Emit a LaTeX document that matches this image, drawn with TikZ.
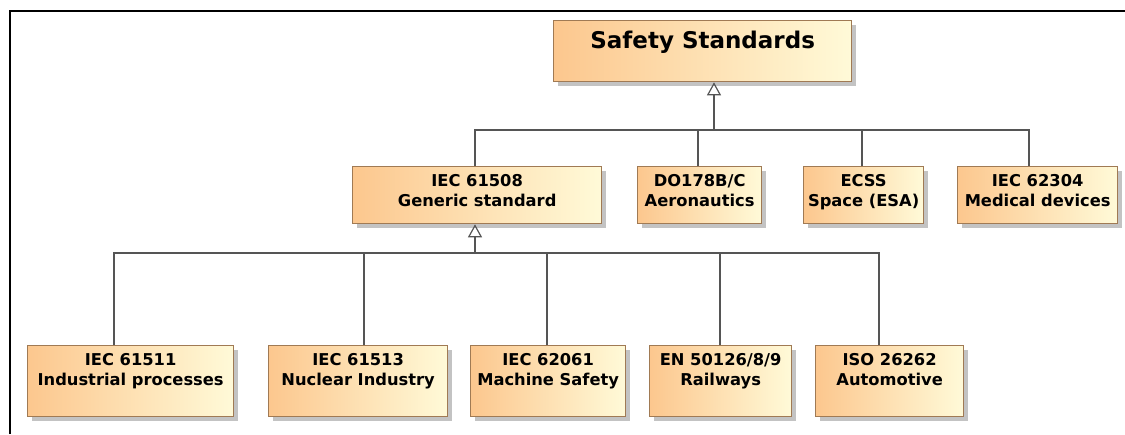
\documentclass[tikz,border=0pt]{standalone}
\usepackage{fontspec}
\setmainfont{DejaVu Sans}
\usetikzlibrary{arrows.meta,shadows}
\definecolor{boxleft}{RGB}{252,199,142}
\definecolor{boxright}{RGB}{255,250,216}
\definecolor{boxborder}{RGB}{160,122,84}
\definecolor{connc}{RGB}{85,85,85}
\definecolor{shadowc}{RGB}{195,195,195}
\begin{document}
\begin{tikzpicture}[x=1pt,y=-1pt,
  sbox/.style={draw=boxborder, line width=1.3pt, left color=boxleft, right color=boxright,
    anchor=north west, inner sep=0pt, minimum height=#1,
    drop shadow={shadow xshift=4pt, shadow yshift=-4pt, fill=shadowc, opacity=1}},
  lbl/.style={anchor=north, yshift=-8pt, align=center, inner sep=0pt,
    font=\bfseries\fontsize{16.3}{20.5}\selectfont},
  conn/.style={draw=connc, line width=1.3pt},
  gen/.style={conn, -{Triangle[open, width=14pt, length=13pt, line width=1.2pt]}}
]
\useasboundingbox (0,0) rectangle (1125,434);
\draw[line width=2.2pt] (10,434) -- (10,11) -- (1125,11);

% top
\node[sbox=61pt, minimum width=298pt, label={[lbl, yshift=-3pt, font=\bfseries\fontsize{23}{27}\selectfont]north:Safety Standards}] (safety) at (553,20) {};

% level 2
\node[sbox=57pt, minimum width=249pt, label={[lbl]north:IEC 61508\\Generic standard}] (i61508) at (352,166) {};
\node[sbox=57pt, minimum width=124pt, label={[lbl]north:DO178B/C\\Aeronautics}] (do178) at (637,166) {};
\node[sbox=57pt, minimum width=120pt, label={[lbl]north:ECSS\\Space (ESA)}] (ecss) at (803,166) {};
\node[sbox=57pt, minimum width=160pt, label={[lbl]north:IEC 62304\\Medical devices}] (i62304) at (957,166) {};

% level 3
\node[sbox=71pt, minimum width=206pt, label={[lbl]north:IEC 61511\\Industrial processes}] (i61511) at (27,345) {};
\node[sbox=71pt, minimum width=179pt, label={[lbl]north:IEC 61513\\Nuclear Industry}] (i61513) at (268,345) {};
\node[sbox=71pt, minimum width=155pt, label={[lbl]north:IEC 62061\\Machine Safety}] (i62061) at (470,345) {};
\node[sbox=71pt, minimum width=142pt, label={[lbl]north:EN 50126/8/9\\Railways}] (en50126) at (649,345) {};
\node[sbox=71pt, minimum width=148pt, label={[lbl]north:ISO 26262\\Automotive}] (iso26262) at (815,345) {};

% bus coordinates
\coordinate (busA) at (714,130);
\coordinate (xA1) at (475,130);
\coordinate (xA2) at (698,130);
\coordinate (xA3) at (862,130);
\coordinate (xA4) at (1029,130);
\coordinate (busB) at (475,253);
\coordinate (xB1) at (114,253);
\coordinate (xB2) at (364,253);
\coordinate (xB3) at (547,253);
\coordinate (xB4) at (720,253);
\coordinate (xB5) at (879,253);

% level 1 connectors
\draw[gen] (busA) -- (safety.south -| busA);
\draw[conn] (i61508.north -| xA1) -- (xA1) -- (xA4) -- (i62304.north -| xA4);
\draw[conn] (do178.north -| xA2) -- (xA2);
\draw[conn] (ecss.north -| xA3) -- (xA3);

% level 2 connectors
\draw[gen] (busB) -- (i61508.south -| busB);
\draw[conn] (i61511.north -| xB1) -- (xB1) -- (xB5) -- (iso26262.north -| xB5);
\draw[conn] (i61513.north -| xB2) -- (xB2);
\draw[conn] (i62061.north -| xB3) -- (xB3);
\draw[conn] (en50126.north -| xB4) -- (xB4);
\end{tikzpicture}
\end{document}
